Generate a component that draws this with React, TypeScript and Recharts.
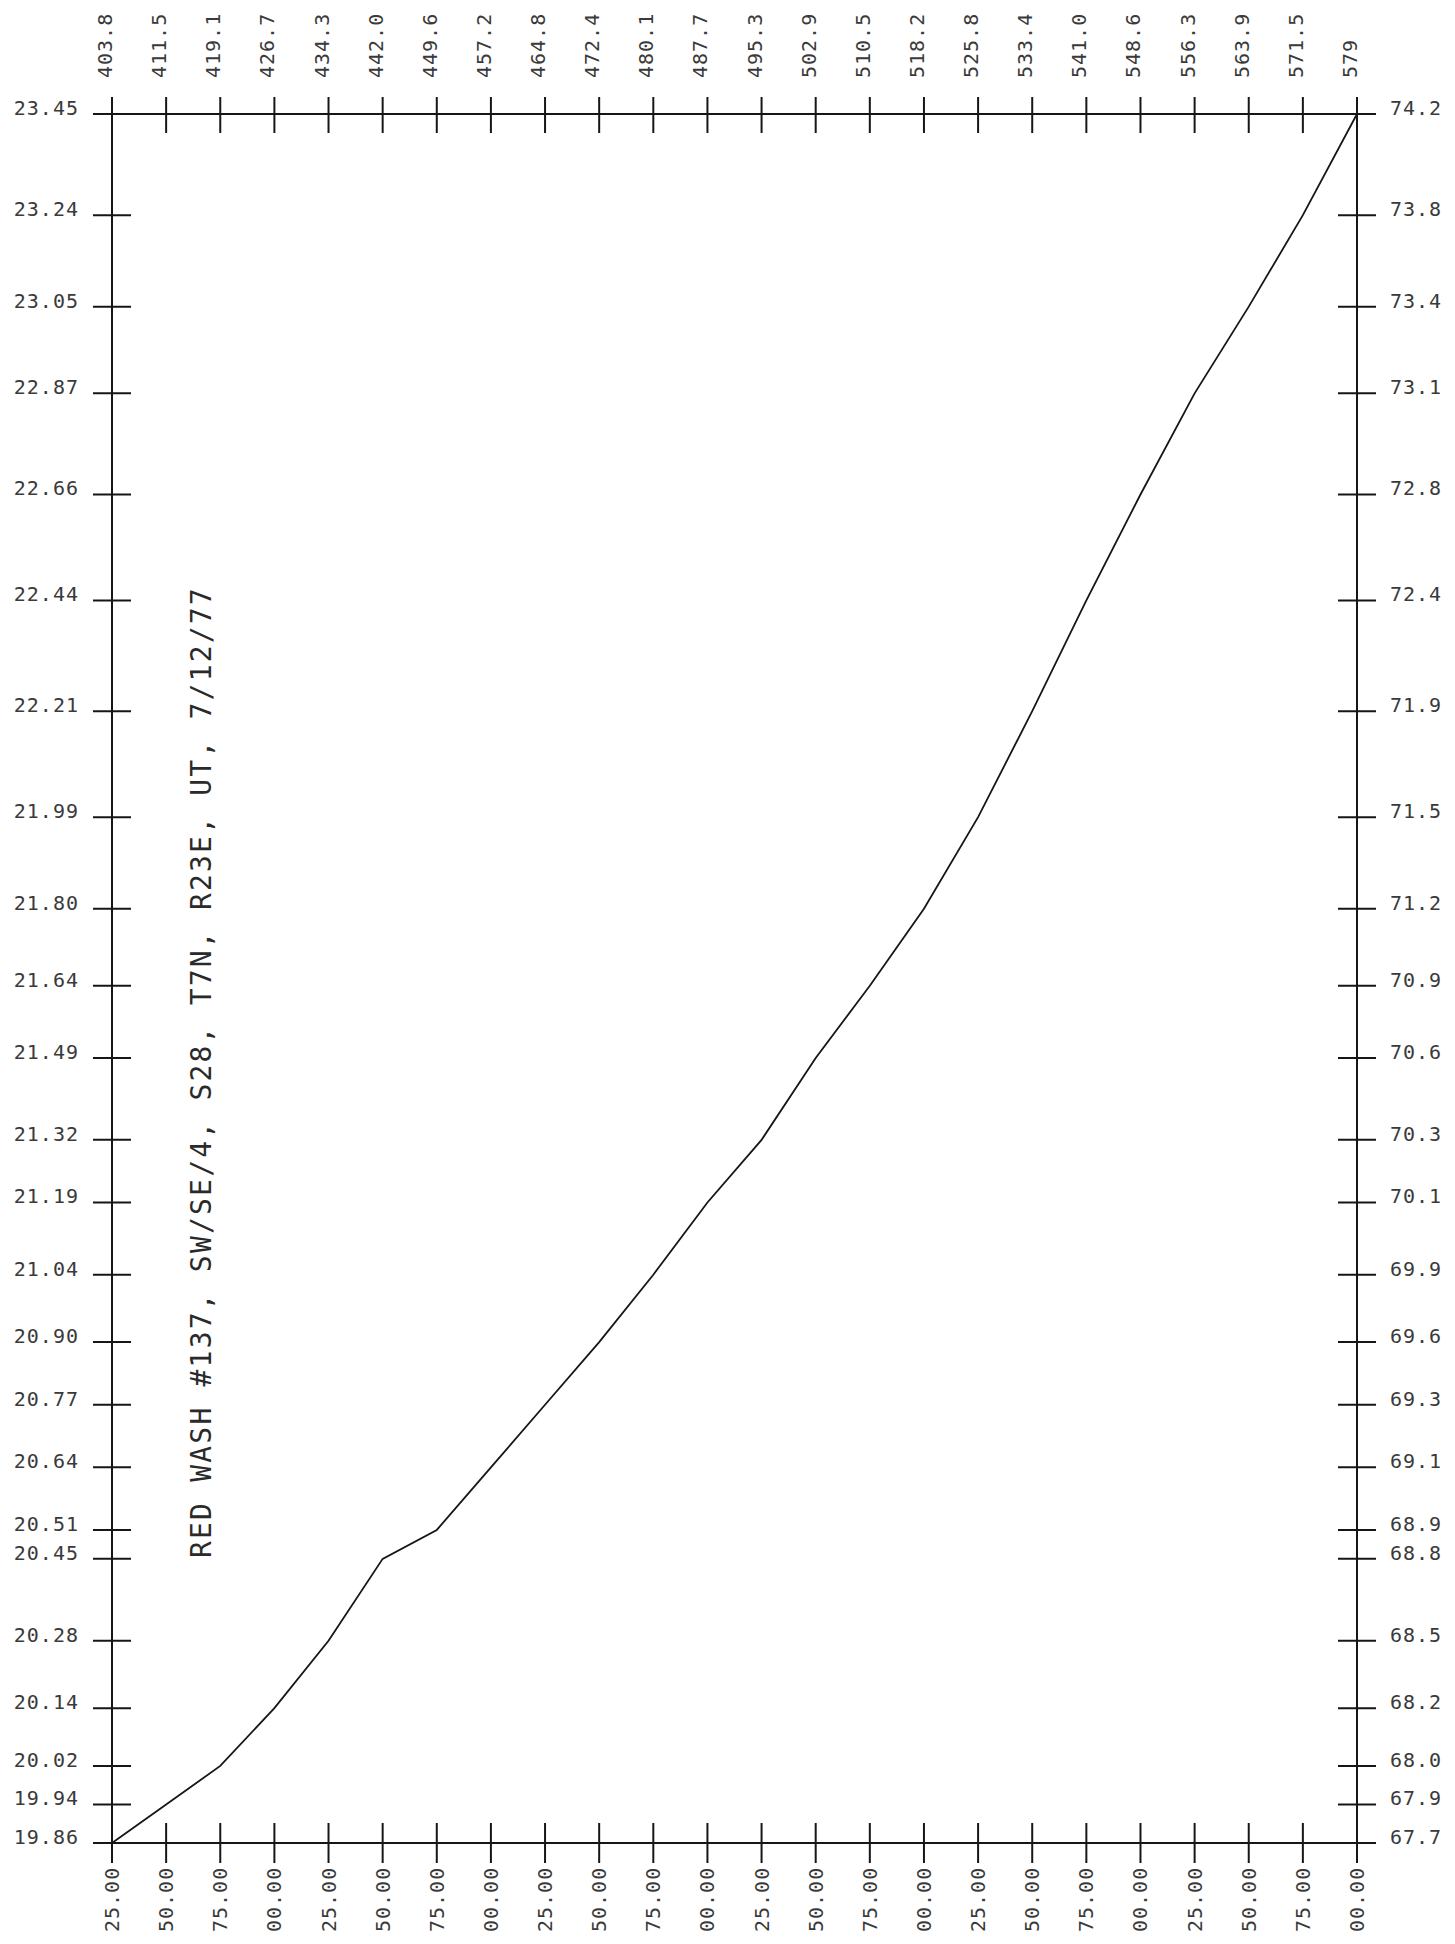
import React from "react";
import { LineChart, Line, XAxis, YAxis } from "recharts";

// depth in feet, one reading every 25 ft
const depthFt = [
  1325, 1350, 1375, 1400, 1425, 1450, 1475, 1500, 1525, 1550, 1575, 1600,
  1625, 1650, 1675, 1700, 1725, 1750, 1775, 1800, 1825, 1850, 1875, 1900,
];

// temperature (deg C) at each depth
const tempC = [
  19.86, 19.94, 20.02, 20.14, 20.28, 20.45, 20.51, 20.64, 20.77, 20.9, 21.04, 21.19,
  21.32, 21.49, 21.64, 21.8, 21.99, 22.21, 22.44, 22.66, 22.87, 23.05, 23.24, 23.45,
];

// top axis: depth in metres
const depthMLabels = [
  "403.8", "411.5", "419.1", "426.7", "434.3", "442.0", "449.6", "457.2", "464.8", "472.4", "480.1", "487.7",
  "495.3", "502.9", "510.5", "518.2", "525.8", "533.4", "541.0", "548.6", "556.3", "563.9", "571.5", "579",
];

// right axis: deg F, same tick positions as the left axis
const tempFLabels = [
  "67.7", "67.9", "68.0", "68.2", "68.5", "68.8", "68.9", "69.1", "69.3", "69.6", "69.9", "70.1",
  "70.3", "70.6", "70.9", "71.2", "71.5", "71.9", "72.4", "72.8", "73.1", "73.4", "73.8", "74.2",
];

const title = "RED WASH #137, SW/SE/4, S28, T7N, R23E, UT, 7/12/77";

const data = depthFt.map((d, i) => ({ depth: d, temp: tempC[i] }));

const INK = "#161616";
const labelFont = {
  fontFamily: "'DejaVu Sans Mono', monospace",
  fontSize: 20,
  letterSpacing: 1,
  fill: "#3a3a3a",
};

function LeftTick({ x, y, payload }: any) {
  return (
    <g>
      <line x1={x - 19} x2={x + 19} y1={y} y2={y} stroke={INK} strokeWidth={2} />
      <text x={x - 33} y={y + 1} textAnchor="end" {...labelFont}>
        {Number(payload.value).toFixed(2)}
      </text>
    </g>
  );
}

function RightTick({ x, y, payload }: any) {
  const i = tempC.indexOf(payload.value);
  return (
    <g>
      <line x1={x - 19} x2={x + 19} y1={y} y2={y} stroke={INK} strokeWidth={2} />
      <text x={x + 33} y={y + 1} textAnchor="start" {...labelFont}>
        {tempFLabels[i]}
      </text>
    </g>
  );
}

function TopTick({ x, y, payload }: any) {
  const i = depthFt.indexOf(payload.value);
  return (
    <g>
      <line x1={x} x2={x} y1={y - 17} y2={y + 19} stroke={INK} strokeWidth={2} />
      <text transform={`translate(${x},${y - 36}) rotate(-90)`} textAnchor="start" {...labelFont}>
        {depthMLabels[i]}
      </text>
    </g>
  );
}

function BottomTick({ x, y, payload }: any) {
  const v = Number(payload.value);
  const label = String(v % 100).padStart(2, "0") + ".00";
  return (
    <g>
      <line x1={x} x2={x} y1={y - 20} y2={y + 20} stroke={INK} strokeWidth={2} />
      <text transform={`translate(${x + 7},${y + 89}) rotate(-90)`} textAnchor="start" {...labelFont}>
        {label}
      </text>
    </g>
  );
}

export default function App() {
  const axisLine = { stroke: INK, strokeWidth: 2 };
  return (
    <div style={{ position: "absolute", left: 0, top: 0, width: 1455, height: 1944, background: "#fff" }}>
      <LineChart width={1455} height={1944} data={data} margin={{ top: 0, right: 0, bottom: 0, left: 0 }}>
        <XAxis
          xAxisId="bottom"
          dataKey="depth"
          type="number"
          orientation="bottom"
          domain={[1325, 1900]}
          ticks={depthFt}
          interval={0}
          height={101}
          tickSize={0}
          tickMargin={0}
          tickLine={false}
          axisLine={axisLine}
          tick={<BottomTick />}
        />
        <XAxis
          xAxisId="top"
          dataKey="depth"
          type="number"
          orientation="top"
          domain={[1325, 1900]}
          ticks={depthFt}
          interval={0}
          height={114}
          tickSize={0}
          tickMargin={0}
          tickLine={false}
          axisLine={axisLine}
          tick={<TopTick />}
        />
        <YAxis
          yAxisId="left"
          type="number"
          domain={[19.86, 23.45]}
          ticks={tempC}
          interval={0}
          width={112}
          tickSize={0}
          tickMargin={0}
          tickLine={false}
          axisLine={axisLine}
          tick={<LeftTick />}
        />
        <YAxis
          yAxisId="right"
          orientation="right"
          type="number"
          domain={[19.86, 23.45]}
          ticks={tempC}
          interval={0}
          width={98}
          tickSize={0}
          tickMargin={0}
          tickLine={false}
          axisLine={axisLine}
          tick={<RightTick />}
        />
        <Line
          xAxisId="bottom"
          yAxisId="left"
          dataKey="temp"
          type="linear"
          stroke={INK}
          strokeWidth={1.8}
          dot={false}
          isAnimationActive={false}
        />
        <Line
          xAxisId="top"
          yAxisId="right"
          dataKey="temp"
          type="linear"
          stroke="none"
          dot={false}
          legendType="none"
          isAnimationActive={false}
        />
      </LineChart>
      <svg width={1455} height={1944} style={{ position: "absolute", left: 0, top: 0, pointerEvents: "none" }}>
        <text
          transform="translate(211,1558) rotate(-90)"
          textAnchor="start"
          fontFamily="'DejaVu Sans Mono', monospace"
          fontSize={28}
          letterSpacing={2.2}
          fill="#2a2a2a"
        >
          {title}
        </text>
      </svg>
    </div>
  );
}
